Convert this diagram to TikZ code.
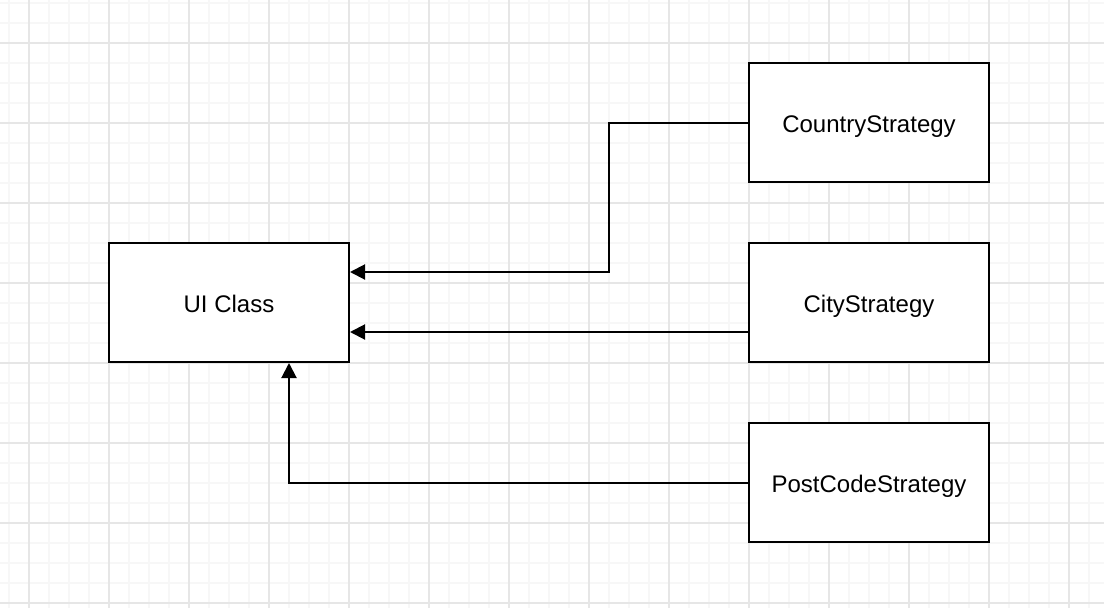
\documentclass[tikz,border=0pt]{standalone}
\usepackage{fontspec}
\setmainfont{Liberation Sans}
\usetikzlibrary{arrows.meta}
\begin{document}
\begin{tikzpicture}[x=1pt,y=-1pt,
  box/.style={draw=black,line width=2pt,fill=white,minimum width=240pt,minimum height=119pt,inner sep=0pt,font=\fontsize{24}{28}\selectfont,text height=21pt,text depth=2pt},
  conn/.style={draw=black,line width=2pt,-{Triangle[length=15pt,width=15pt]}},
  minorgrid/.style={draw={rgb,255:red,247;green,247;blue,247},line width=2pt},
  majorgrid/.style={draw={rgb,255:red,230;green,230;blue,230},line width=2pt}]
\fill[white] (0,0) rectangle (1104,608);
\useasboundingbox (0,0) rectangle (1104,608);
% minor grid
\foreach \x in {9,29,...,1109} \draw[minorgrid] (\x,0) -- (\x,608);
\foreach \y in {3,23,...,608} \draw[minorgrid] (0,\y) -- (1104,\y);
% major grid
\foreach \x in {29,109,...,1109} \draw[majorgrid] (\x,0) -- (\x,608);
\foreach \y in {43,123,...,608} \draw[majorgrid] (0,\y) -- (1104,\y);
% nodes
\node[box] (ui) at (229,302.5) {UI Class};
\node[box] (country) at (869,122.5) {CountryStrategy};
\node[box] (city) at (869,302.5) {CityStrategy};
\node[box] (post) at (869,482.5) {PostCodeStrategy};
% connectors
\draw[conn] (country.west) -- (609,122.5) -- (609,272) -- (ui.east |- 0,272);
\draw[conn] (city.west |- 0,332) -- (ui.east |- 0,332);
\draw[conn] (post.west) -- (289,482.5) -- (ui.south -| 289,0);
\end{tikzpicture}
\end{document}
